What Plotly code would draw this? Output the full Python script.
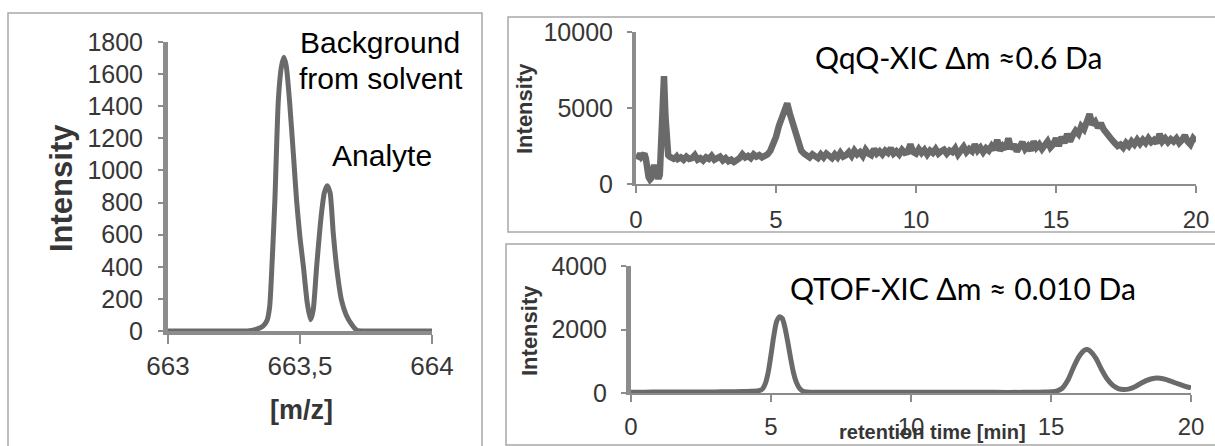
import numpy as np
import plotly.graph_objects as go

W, H = 1215, 446

# ---------------- data ----------------
# Left panel: mass spectrum
mz = [663.00, 663.20, 663.30, 663.33, 663.36, 663.375, 663.385, 663.395, 663.405, 663.418,
      663.43, 663.439, 663.448, 663.46, 663.475, 663.487, 663.50, 663.513, 663.527, 663.54,
      663.55, 663.563, 663.58, 663.592, 663.603, 663.614, 663.626, 663.64, 663.657, 663.675,
      663.696, 663.715, 663.75, 663.85, 664.00]
ms_int = [0, 0, 0, 8, 30, 65, 150, 450, 820, 1440,
          1650, 1705, 1650, 1440, 1100, 815, 580, 400, 180, 70,
          130, 400, 712, 860, 905, 860, 609, 380, 193, 100,
          40, 5, 0, 0, 0]
mz_tickvals = [663, 663.5, 664]
mz_ticktext = ["663", "663,5", "664"]

# Top right: QqQ-XIC
rt_qqq_a = [0.05, 0.10, 0.15, 0.20, 0.25, 0.30, 0.35, 0.40, 0.45, 0.50, 0.55, 0.60, 0.65,
            0.70, 0.75, 0.80, 0.85, 0.90, 0.95, 1.00, 1.05, 1.10, 1.15, 1.20, 1.25, 1.30,
            1.35, 1.40, 1.45, 1.50]
int_qqq_a = [1600, 1900, 2000, 1800, 1950, 2000, 1700, 900, 450, 300, 400, 900, 1250,
             900, 400, 350, 600, 2500, 6000, 7100, 4500, 2300, 1900, 1800, 1700, 1750,
             1650, 1700, 1800, 1650]
int_qqq_b = [  # 1.6 .. 20.0 every 0.1 min
    1750, 1600, 1800, 1650, 1700, 1900, 1600, 1700, 1550, 1750,   # 1.6-2.5
    1650, 1850, 1600, 1700, 1800, 1550, 1700, 1500, 1600, 1450,   # 2.6-3.5
    1550, 1700, 1950, 1750, 1850, 1700, 1950, 1800, 1900, 1750,   # 3.6-4.5
    1850, 1950, 2200, 2600, 3100, 3800, 4300, 4700, 5300, 4600,   # 4.6-5.5
    4000, 3100, 2500, 2200, 2000, 1900, 1750, 1950, 1800, 1700,   # 5.6-6.5
    1950, 1750, 2000, 1800, 1700, 1950, 1750, 2050, 1800, 1900,   # 6.6-7.5
    2100, 1850, 2200, 1950, 2100, 1850, 2250, 2000, 1900, 2300,   # 7.6-8.5
    2000, 2150, 1950, 2200, 2050, 2350, 2000, 2150, 1950, 2250,   # 8.6-9.5
    2050, 2100, 2600, 2100, 2000, 2300, 2050, 2250, 1950, 2200,   # 9.6-10.5
    2050, 2300, 2000, 2150, 2250, 2000, 2200, 2100, 2350, 1950,   # 10.6-11.5
    2200, 2450, 2100, 2300, 2150, 2600, 2200, 2400, 2100, 2350,   # 11.6-12.5
    2200, 2500, 2250, 2900, 2200, 2500, 2300, 3000, 2300, 2600,   # 12.6-13.5
    2150, 2400, 2750, 2300, 2500, 2200, 2800, 2400, 2600, 2300,   # 13.6-14.5
    2500, 2800, 2400, 2600, 3000, 2500, 3100, 2700, 3300, 2800,   # 14.6-15.5
    3200, 3500, 3300, 3800, 3600, 4000, 4600, 3900, 4100, 3700,   # 15.6-16.5
    4000, 3600, 3300, 3100, 2900, 2700, 2500, 2600, 2400, 2700,   # 16.6-17.5
    2500, 2800, 2600, 2900, 2650, 2900, 2700, 3000, 2750, 2900,   # 17.6-18.5
    2700, 3300, 2800, 3000, 2750, 2950, 2800, 3000, 2700, 2900,   # 18.6-19.5
    3200, 2800, 2600, 3000, 2800]                                  # 19.6-20.0
rt_qqq_b = [round(1.6 + 0.1 * i, 1) for i in range(len(int_qqq_b))]
rt_qqq = rt_qqq_a + rt_qqq_b
int_qqq = int_qqq_a + int_qqq_b

# Bottom right: QTOF-XIC
rt_qtof = [0, 0.5, 1, 1.5, 2, 2.5, 3, 3.5, 4, 4.3, 4.5, 4.6, 4.7, 4.8, 4.9, 5.0, 5.1, 5.2,
           5.3, 5.4, 5.5, 5.6, 5.7, 5.8, 5.9, 6.0, 6.1, 6.2, 6.4, 6.7, 7, 8, 9, 10, 11, 12,
           13, 14, 14.5, 14.8, 15.0, 15.2, 15.4, 15.6, 15.8, 16.0, 16.2, 16.3, 16.4, 16.6,
           16.8, 17.0, 17.2, 17.4, 17.6, 17.8, 18.0, 18.2, 18.4, 18.6, 18.8, 19.0, 19.2,
           19.4, 19.6, 19.8, 20.0]
int_qtof = [20, 25, 30, 30, 30, 35, 35, 40, 45, 55, 65, 80, 130, 300, 650, 1200, 1800, 2250,
            2400, 2350, 2050, 1600, 1100, 650, 350, 170, 80, 45, 25, 20, 20, 20, 20, 20, 20, 20,
            20, 20, 25, 30, 40, 60, 150, 400, 800, 1150, 1350, 1370, 1320, 1100,
            750, 450, 250, 140, 110, 130, 200, 300, 390, 450, 470, 450, 400,
            330, 270, 210, 160]

# ---------------- styling ----------------
TRACE = "#6a6a6a"
AXIS = "#8c8c8c"
TICKC = "#363636"
BORDER = "#a8a8a8"
ARIAL = "Liberation Sans, Arial, sans-serif"
CAL = "Lato, Carlito, Calibri, sans-serif"


def px(x):
    return x / W


def py(y):
    return 1 - y / H


fig = go.Figure()
fig.add_trace(go.Scatter(x=mz, y=ms_int, mode="lines", line=dict(color=TRACE, width=5, shape="spline", smoothing=0.6),
                         xaxis="x", yaxis="y", hoverinfo="skip"))
fig.add_trace(go.Scatter(x=rt_qqq, y=int_qqq, mode="lines", line=dict(color=TRACE, width=6.5),
                         xaxis="x2", yaxis="y2", hoverinfo="skip"))
fig.add_trace(go.Scatter(x=rt_qtof, y=int_qtof, mode="lines", line=dict(color=TRACE, width=5, shape="spline", smoothing=0.8),
                         xaxis="x3", yaxis="y3", hoverinfo="skip"))

common = dict(showgrid=False, zeroline=False, showline=True, linecolor=AXIS, ticks="outside",
              tickcolor=AXIS, tickwidth=2, fixedrange=True, automargin=False)

fig.update_layout(
    width=W, height=H, autosize=False,
    margin=dict(l=0, r=0, t=0, b=0, pad=0, autoexpand=False),
    paper_bgcolor="white", plot_bgcolor="white", showlegend=False,
    xaxis=dict(domain=[px(168), px(432)], range=[663, 664], tickvals=mz_tickvals, ticktext=mz_ticktext,
               anchor="y", linewidth=4, ticklen=9, ticklabelstandoff=0,
               tickfont=dict(family=ARIAL, size=26, color=TICKC), **common),
    yaxis=dict(domain=[py(331), py(42)], range=[0, 1800], dtick=200, anchor="x", linewidth=5,
               ticklen=5, ticklabelstandoff=10, tickformat="d",
               tickfont=dict(family=ARIAL, size=25, color=TICKC), **common),
    xaxis2=dict(domain=[px(636), px(1196)], range=[0, 20], dtick=5, anchor="y2", linewidth=2,
                ticklen=7, ticklabelstandoff=6, tickformat="d",
                tickfont=dict(family=ARIAL, size=24, color=TICKC), **common),
    yaxis2=dict(domain=[py(184), py(32)], range=[0, 10000], dtick=5000, anchor="x2", linewidth=4,
                ticklen=5, ticklabelstandoff=9, tickformat="d",
                tickfont=dict(family=ARIAL, size=25, color=TICKC), **common),
    xaxis3=dict(domain=[px(631), px(1191)], range=[0, 20], dtick=5, anchor="y3", linewidth=2,
                ticklen=7, ticklabelstandoff=4, tickformat="d",
                tickfont=dict(family=ARIAL, size=24, color=TICKC), **common),
    yaxis3=dict(domain=[py(393), py(266)], range=[0, 4000], dtick=2000, anchor="x3", linewidth=5,
                ticklen=5, ticklabelstandoff=9, tickformat="d",
                tickfont=dict(family=ARIAL, size=25, color=TICKC), **common),
)

# panel borders
for (x0, y0, x1, y1) in [(8, 13, 482, 448), (508, 17, 1240, 232), (506, 244, 1240, 445)]:
    fig.add_shape(type="rect", xref="paper", yref="paper", x0=px(x0), x1=px(x1), y0=py(y1), y1=py(y0),
                  line=dict(color=BORDER, width=1.5), fillcolor="rgba(0,0,0,0)", layer="above")


def ann(text, x, y, size, family=ARIAL, color="black", bold=False, angle=0, xanchor="center"):
    t = f"<b>{text}</b>" if bold else text
    fig.add_annotation(text=t, x=px(x), y=py(y), xref="paper", yref="paper", showarrow=False,
                       font=dict(family=family, size=size, color=color), textangle=angle,
                       xanchor=xanchor, yanchor="middle")


# left panel texts
ann("Background", 380, 43, 30)
ann("from solvent", 381, 79, 30)
ann("Analyte", 382, 155, 30)
ann("Intensity", 61, 188, 31, color="#363636", bold=True, angle=-90)
ann("[m/z]", 301, 410, 27, color="#363636", bold=True)

# right panel texts
ann("QqQ-XIC Δm ≈0.6 Da", 958, 57, 30, family=CAL)
ann("QTOF-XIC Δm ≈ 0.010 Da", 963, 288, 30, family=CAL)
ann("Intensity", 524, 109, 22, color="#363636", bold=True, angle=-90)
ann("Intensity", 529, 331, 22, color="#363636", bold=True, angle=-90)
ann("retention time [min]", 932, 432, 20, color="#363636", bold=True)

fig.write_html("out.html")
